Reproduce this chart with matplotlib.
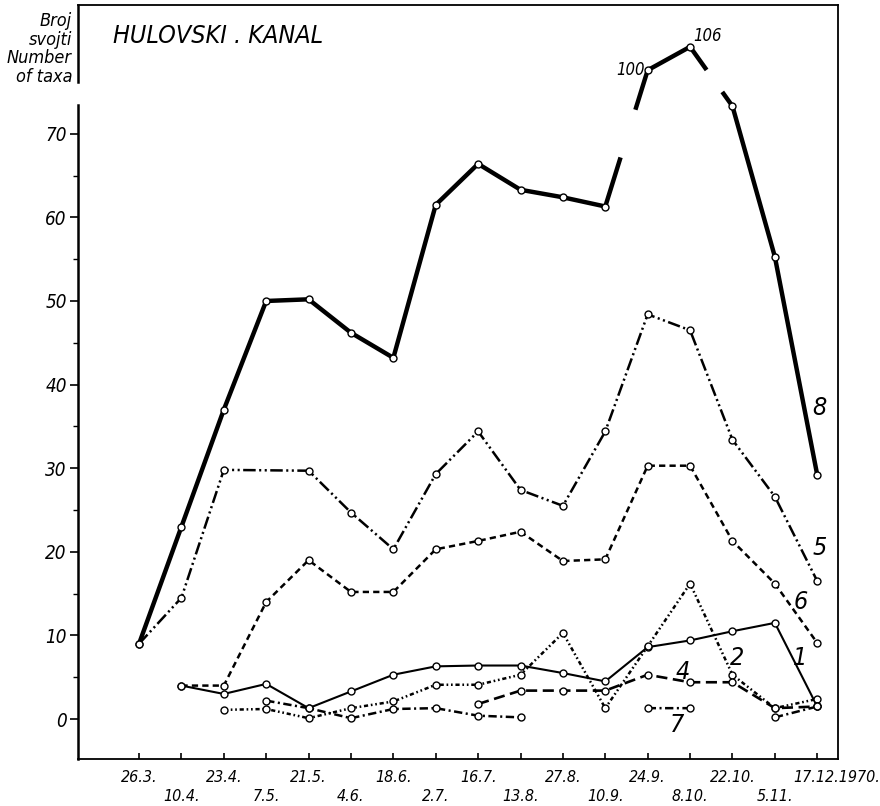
import numpy as np
import matplotlib
matplotlib.use('agg')
import matplotlib.pyplot as plt
from matplotlib.transforms import ScaledTranslation

plt.rcParams['font.family'] = ['DejaVu Sans']
plt.rcParams['font.style'] = 'italic'
plt.rcParams['font.stretch'] = 'condensed'
plt.rcParams['lines.scale_dashes'] = False

dates = ['26.3.', '10.4.', '23.4.', '7.5.', '21.5.', '4.6.', '18.6.', '2.7.', '16.7.',
         '13.8.', '27.8.', '10.9.', '24.9.', '8.10.', '22.10.', '5.11.', '17.12.1970.']
nan = np.nan

# number of taxa per sampling date, by group
s8 = [9, 23, 37, 50, 50.2, 46.2, 43.2, 61.5, 66.4, 63.3, 62.4, 61.3, 100, 106, 73.3, 55.3, 29.2]
s5 = [9, 14.5, 29.8, nan, 29.7, 24.7, 20.3, 29.3, 34.4, 27.4, 25.5, 34.4, 48.4, 46.5, 33.4, 26.6, 16.5]
s6 = [nan, 4.0, 4.0, 14.0, 19.0, 15.2, 15.2, 20.3, 21.3, 22.4, 18.9, 19.1, 30.3, 30.3, 21.3, 16.2, 9.1]
s1 = [nan, 4.0, 3.0, 4.2, 1.3, 3.3, 5.3, 6.3, 6.4, 6.4, 5.5, 4.5, 8.6, 9.4, 10.5, 11.5, 1.5]
s2 = [nan, nan, 1.1, 1.2, 0.1, 1.3, 2.1, 4.1, 4.1, 5.3, 10.3, 1.3, 8.7, 16.2, 5.3, 1.3, 2.4]
s4 = [nan, nan, nan, nan, nan, nan, nan, nan, 1.8, 3.4, 3.4, 3.4, 5.3, 4.4, 4.4, 1.3, 1.5]
s7 = [nan, nan, nan, 2.2, 1.3, 0.1, 1.2, 1.3, 0.4, 0.2, nan, nan, 1.3, 1.3, nan, 0.2, 1.5]

# broken y axis: values above 75 are squeezed
bx = np.array([-1000, 75, 100, 1000])
by = np.array([-1000, 75, 77.6, 77.6 + 900 * 0.467])


def fwd(v):
    return np.interp(v, bx, by)


def inv(v):
    return np.interp(v, by, bx)


fig = plt.figure(figsize=(8.8, 8.06), dpi=100)
ax = fig.add_axes([78 / 880, 47 / 806, 760 / 880, 754 / 806])
ax.set_yscale('function', functions=(fwd, inv))
ax.set_xlim(-1.44, 16.49)
ax.set_ylim(-4.78, inv(85.4))

x = np.arange(len(dates))
mk = dict(marker='o', ms=5, mfc='white', mec='black', mew=1.0, color='black')


def broken_line(y, gaps, **kw):
    t = fwd(np.array(y, float))
    px, pt = [x[0]], [t[0]]
    for i in range(len(x) - 1):
        if i in gaps:
            a, b = gaps[i]
            px.append(x[i] + a); pt.append(t[i] + a * (t[i + 1] - t[i]))
            ax.plot(px, inv(np.array(pt)), **kw)
            px, pt = [x[i] + b], [t[i] + b * (t[i + 1] - t[i])]
        px.append(x[i + 1]); pt.append(t[i + 1])
    ax.plot(px, inv(np.array(pt)), **kw)


broken_line(s8, {11: (0.36, 0.71), 13: (0.39, 0.76)}, color='black', lw=3.2, solid_capstyle='butt')
ax.plot(x, s8, ls='none', **mk)

# group 5 was not sampled on 7.5., its line runs straight across
v5 = ~np.isnan(np.array(s5))
ax.plot(x[v5], np.array(s5)[v5], lw=1.8, dashes=(9, 2.5, 1.5, 2.5, 1.5, 2.5), **mk)
ax.plot(x, s6, lw=1.8, dashes=(4.5, 3), **mk)
ax.plot(x, s1, lw=1.5, **mk)
ax.plot(x, s2, lw=1.8, dashes=(3, 2, 1.2, 2, 1.2, 2), **mk)
ax.plot(x, s4, lw=1.9, dashes=(8, 4), **mk)
ax.plot(x, s7, lw=1.8, dashes=(6, 2.5, 1.5, 2.5), **mk)

ax.annotate('100', (12, 100), xytext=(-2, 0), textcoords='offset points', ha='right', va='center', fontsize=12)
ax.annotate('106', (13, 106), xytext=(2, 1), textcoords='offset points', ha='left', va='bottom', fontsize=12)

for lab, xp, yp in [('8', 16.05, 37.2), ('5', 16.05, 20.4), ('6', 15.6, 14.0), ('1', 15.6, 7.3),
                    ('2', 14.1, 7.3), ('4', 12.83, 5.6), ('7', 12.7, -0.7)]:
    ax.text(xp, yp, lab, fontsize=18, ha='center', va='center')

ax.text(0.046, 0.959, 'HULOVSKI . KANAL', transform=ax.transAxes, fontsize=18, ha='left', va='center')
fig.text(72 / 880, 1 - 12 / 806, 'Broj\nsvojti\nNumber\nof taxa', ha='right', va='top',
         fontsize=13, linespacing=1.05)

# axes frame with break in the left axis
ax.spines['left'].set_visible(False)
for sp in ['top', 'right', 'bottom']:
    ax.spines[sp].set_linewidth(1.3)
ax.plot([0, 0], [0, 0.867], transform=ax.transAxes, color='black', lw=1.8, clip_on=False)
ax.plot([0, 0], [0.898, 1], transform=ax.transAxes, color='black', lw=1.8, clip_on=False)

ax.set_yticks(range(0, 80, 10))
ax.set_yticks(range(5, 70, 10), minor=True)
ax.yaxis.set_major_formatter(matplotlib.ticker.FormatStrFormatter('%d'))
ax.yaxis.set_minor_formatter(matplotlib.ticker.NullFormatter())
ax.tick_params(axis='y', which='major', direction='out', length=6, width=1.2, labelsize=13.5, pad=2)
ax.tick_params(axis='y', which='minor', direction='out', length=3.5, width=1.0)
ax.tick_params(axis='y', which='both', right=False)

ax.set_xticks(x)
ax.set_xticklabels([d if i % 2 == 0 else '\n' + d for i, d in enumerate(dates)])
ax.tick_params(axis='x', direction='in', length=4, width=1.2, labelsize=11.5, pad=8, top=False)
for i, t in enumerate(ax.get_xticklabels()):
    t.set_linespacing(1.3)
    if i == len(dates) - 1:
        t.set_transform(t.get_transform() + ScaledTranslation(0.2, 0, fig.dpi_scale_trans))

fig.savefig('out.png', dpi=100)
